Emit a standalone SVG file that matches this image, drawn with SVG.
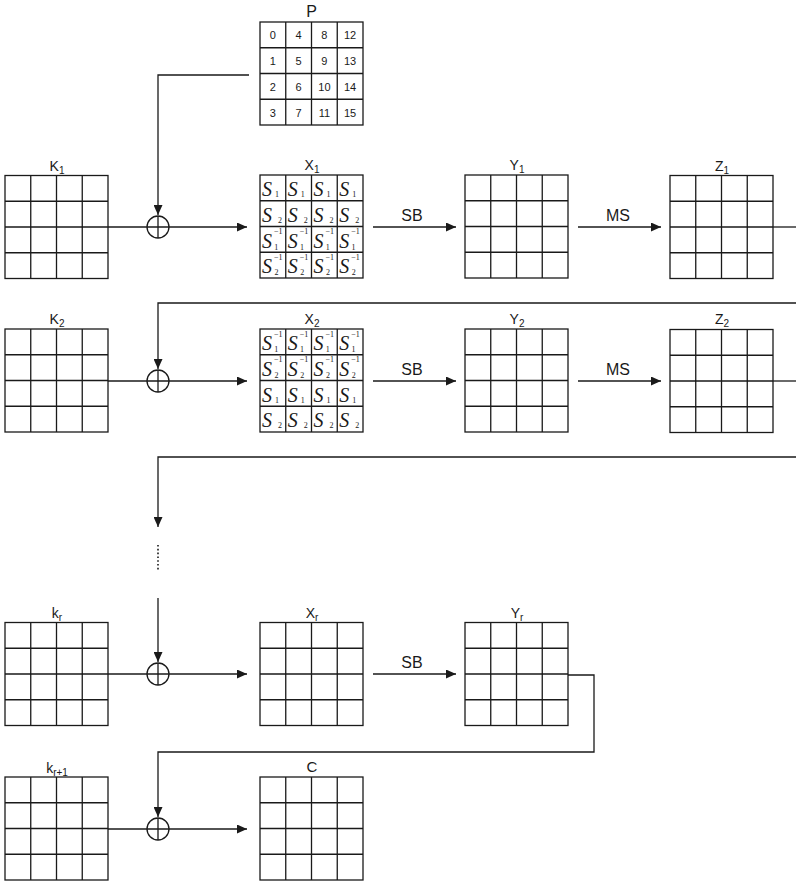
<svg xmlns="http://www.w3.org/2000/svg" xmlns:xlink="http://www.w3.org/1999/xlink" width="796" height="885" viewBox="0 0 796 885">
<style>
.gl{fill:none;stroke:#1a1a1a;stroke-width:1.3}
.cn{fill:none;stroke:#1a1a1a;stroke-width:1.3}
.lb{font-family:"Liberation Sans",Arial,sans-serif;font-size:14px;fill:#1a1a1a;text-anchor:middle}
.op{font-family:"Liberation Sans",Arial,sans-serif;font-size:16px;fill:#1a1a1a;text-anchor:middle}
.num{font-family:"Liberation Sans",Arial,sans-serif;font-size:11px;fill:#1a1a1a;text-anchor:middle}
.S{font-family:"Liberation Serif","Times New Roman",serif;font-style:italic;font-size:20px;fill:#1a1a1a}
.sm{font-family:"Liberation Serif","Times New Roman",serif;font-style:normal;font-size:8px;fill:#1a1a1a}
.xc{fill:#fff;stroke:#1a1a1a;stroke-width:1.3}
</style>
<defs>
<symbol id="grid" overflow="visible">
<rect class="gl" x="0" y="0" width="103" height="103"/>
<path class="gl" d="M25.75 0V103M51.5 0V103M77.25 0V103M0 25.75H103M0 51.5H103M0 77.25H103"/>
</symbol>
<marker id="ah" markerUnits="userSpaceOnUse" markerWidth="11" markerHeight="9" refX="10" refY="4.5" orient="auto">
<path d="M0 0L10 4.5L0 9z" fill="#1a1a1a"/>
</marker>
</defs>

<g id="connectors">
<path class="cn" d="M249 75H158V215" marker-end="url(#ah)"/>
<path class="cn" d="M108 227H247" marker-end="url(#ah)"/>
<path class="cn" d="M373 227H456" marker-end="url(#ah)"/>
<path class="cn" d="M578 227H661" marker-end="url(#ah)"/>
<path class="cn" d="M773 227H796"/>
<path class="cn" d="M796 303H158V369" marker-end="url(#ah)"/>
<path class="cn" d="M108 381H247" marker-end="url(#ah)"/>
<path class="cn" d="M373 381H456" marker-end="url(#ah)"/>
<path class="cn" d="M578 381H661" marker-end="url(#ah)"/>
<path class="cn" d="M773 381H796"/>
<path class="cn" d="M796 457H158V527" marker-end="url(#ah)"/>
<path class="cn" d="M158 545V571" stroke-dasharray="1.6 2.2" style="stroke-width:1.6"/>
<path class="cn" d="M158 598V662" marker-end="url(#ah)"/>
<path class="cn" d="M108 674H247" marker-end="url(#ah)"/>
<path class="cn" d="M373 674H456" marker-end="url(#ah)"/>
<path class="cn" d="M568 675H594V752H158V817" marker-end="url(#ah)"/>
<path class="cn" d="M108 829H247" marker-end="url(#ah)"/>
</g>

<g id="xor1"><circle class="xc" cx="158" cy="227" r="11"/><path class="cn" d="M147 227H169M158 216V238"/></g>
<g id="xor2"><circle class="xc" cx="158" cy="381" r="11"/><path class="cn" d="M147 381H169M158 370V392"/></g>
<g id="xorr"><circle class="xc" cx="158" cy="674" r="11"/><path class="cn" d="M147 674H169M158 663V685"/></g>
<g id="xorr1"><circle class="xc" cx="158" cy="829" r="11"/><path class="cn" d="M147 829H169M158 818V840"/></g>

<g id="P">
<text class="lb" x="311.5" y="17" style="font-size:16px">P</text>
<use href="#grid" x="260" y="22"/>
<text class="num" x="272.9" y="39">0</text><text class="num" x="298.6" y="39">4</text><text class="num" x="324.4" y="39">8</text><text class="num" x="350.1" y="39">12</text>
<text class="num" x="272.9" y="65">1</text><text class="num" x="298.6" y="65">5</text><text class="num" x="324.4" y="65">9</text><text class="num" x="350.1" y="65">13</text>
<text class="num" x="272.9" y="91">2</text><text class="num" x="298.6" y="91">6</text><text class="num" x="324.4" y="91">10</text><text class="num" x="350.1" y="91">14</text>
<text class="num" x="272.9" y="117">3</text><text class="num" x="298.6" y="117">7</text><text class="num" x="324.4" y="117">11</text><text class="num" x="350.1" y="117">15</text>
</g>

<g id="K1"><text class="lb" x="57" y="171">K<tspan dy="3" font-size="10">1</tspan></text><use href="#grid" x="5" y="175.5"/></g>
<g id="X1"><text class="lb" x="312" y="170">X<tspan dy="3" font-size="10">1</tspan></text><use href="#grid" x="260" y="175"/>
<text class="S" x="262" y="196">S<tspan class="sm" dx="3" dy="1">1</tspan></text>
<text class="S" x="287.75" y="196">S<tspan class="sm" dx="3" dy="1">1</tspan></text>
<text class="S" x="313.5" y="196">S<tspan class="sm" dx="3" dy="1">1</tspan></text>
<text class="S" x="339.25" y="196">S<tspan class="sm" dx="3" dy="1">1</tspan></text>
<text class="S" x="262" y="221.75">S<tspan class="sm" dx="6" dy="0.75">2</tspan></text>
<text class="S" x="287.75" y="221.75">S<tspan class="sm" dx="6" dy="0.75">2</tspan></text>
<text class="S" x="313.5" y="221.75">S<tspan class="sm" dx="6" dy="0.75">2</tspan></text>
<text class="S" x="339.25" y="221.75">S<tspan class="sm" dx="6" dy="0.75">2</tspan></text>
<text class="S" x="262" y="247.5">S<tspan class="sm" dx="2" dy="-13.5">−1</tspan><tspan class="sm" dx="-8" dy="15.5">1</tspan></text>
<text class="S" x="287.75" y="247.5">S<tspan class="sm" dx="2" dy="-13.5">−1</tspan><tspan class="sm" dx="-8" dy="15.5">1</tspan></text>
<text class="S" x="313.5" y="247.5">S<tspan class="sm" dx="2" dy="-13.5">−1</tspan><tspan class="sm" dx="-8" dy="15.5">1</tspan></text>
<text class="S" x="339.25" y="247.5">S<tspan class="sm" dx="2" dy="-13.5">−1</tspan><tspan class="sm" dx="-8" dy="15.5">1</tspan></text>
<text class="S" x="262" y="273.25">S<tspan class="sm" dx="2" dy="-13.5">−1</tspan><tspan class="sm" dx="-8" dy="15.5">2</tspan></text>
<text class="S" x="287.75" y="273.25">S<tspan class="sm" dx="2" dy="-13.5">−1</tspan><tspan class="sm" dx="-8" dy="15.5">2</tspan></text>
<text class="S" x="313.5" y="273.25">S<tspan class="sm" dx="2" dy="-13.5">−1</tspan><tspan class="sm" dx="-8" dy="15.5">2</tspan></text>
<text class="S" x="339.25" y="273.25">S<tspan class="sm" dx="2" dy="-13.5">−1</tspan><tspan class="sm" dx="-8" dy="15.5">2</tspan></text>
</g>
<g id="Y1"><text class="lb" x="517" y="170">Y<tspan dy="3" font-size="10">1</tspan></text><use href="#grid" x="465" y="175"/></g>
<g id="Z1"><text class="lb" x="722" y="171">Z<tspan dy="3" font-size="10">1</tspan></text><use href="#grid" x="670" y="175.5"/></g>
<text class="op" x="412" y="221">SB</text>
<text class="op" x="618" y="221">MS</text>

<g id="K2"><text class="lb" x="57" y="324">K<tspan dy="3" font-size="10">2</tspan></text><use href="#grid" x="5" y="329"/></g>
<g id="X2"><text class="lb" x="312" y="324">X<tspan dy="3" font-size="10">2</tspan></text><use href="#grid" x="260" y="329"/>
<text class="S" x="262" y="350">S<tspan class="sm" dx="2" dy="-13.5">−1</tspan><tspan class="sm" dx="-8" dy="15.5">1</tspan></text>
<text class="S" x="287.75" y="350">S<tspan class="sm" dx="2" dy="-13.5">−1</tspan><tspan class="sm" dx="-8" dy="15.5">1</tspan></text>
<text class="S" x="313.5" y="350">S<tspan class="sm" dx="2" dy="-13.5">−1</tspan><tspan class="sm" dx="-8" dy="15.5">1</tspan></text>
<text class="S" x="339.25" y="350">S<tspan class="sm" dx="2" dy="-13.5">−1</tspan><tspan class="sm" dx="-8" dy="15.5">1</tspan></text>
<text class="S" x="262" y="375.75">S<tspan class="sm" dx="2" dy="-13.5">−1</tspan><tspan class="sm" dx="-8" dy="15.5">2</tspan></text>
<text class="S" x="287.75" y="375.75">S<tspan class="sm" dx="2" dy="-13.5">−1</tspan><tspan class="sm" dx="-8" dy="15.5">2</tspan></text>
<text class="S" x="313.5" y="375.75">S<tspan class="sm" dx="2" dy="-13.5">−1</tspan><tspan class="sm" dx="-8" dy="15.5">2</tspan></text>
<text class="S" x="339.25" y="375.75">S<tspan class="sm" dx="2" dy="-13.5">−1</tspan><tspan class="sm" dx="-8" dy="15.5">2</tspan></text>
<text class="S" x="262" y="401.5">S<tspan class="sm" dx="3" dy="1">1</tspan></text>
<text class="S" x="287.75" y="401.5">S<tspan class="sm" dx="3" dy="1">1</tspan></text>
<text class="S" x="313.5" y="401.5">S<tspan class="sm" dx="3" dy="1">1</tspan></text>
<text class="S" x="339.25" y="401.5">S<tspan class="sm" dx="3" dy="1">1</tspan></text>
<text class="S" x="262" y="427.25">S<tspan class="sm" dx="6" dy="0.75">2</tspan></text>
<text class="S" x="287.75" y="427.25">S<tspan class="sm" dx="6" dy="0.75">2</tspan></text>
<text class="S" x="313.5" y="427.25">S<tspan class="sm" dx="6" dy="0.75">2</tspan></text>
<text class="S" x="339.25" y="427.25">S<tspan class="sm" dx="6" dy="0.75">2</tspan></text>
</g>
<g id="Y2"><text class="lb" x="517" y="324">Y<tspan dy="3" font-size="10">2</tspan></text><use href="#grid" x="465" y="329"/></g>
<g id="Z2"><text class="lb" x="722" y="324">Z<tspan dy="3" font-size="10">2</tspan></text><use href="#grid" x="670" y="329.5"/></g>
<text class="op" x="412" y="375">SB</text>
<text class="op" x="618" y="375">MS</text>

<g id="Kr"><text class="lb" x="57" y="618">k<tspan dy="3" font-size="10">r</tspan></text><use href="#grid" x="5" y="622.5"/></g>
<g id="Xr"><text class="lb" x="312" y="618">X<tspan dy="3" font-size="10">r</tspan></text><use href="#grid" x="260" y="622.5"/></g>
<g id="Yr"><text class="lb" x="517" y="618">Y<tspan dy="3" font-size="10">r</tspan></text><use href="#grid" x="465" y="622.5"/></g>
<text class="op" x="412" y="668">SB</text>

<g id="Kr1"><text class="lb" x="57" y="773">k<tspan dy="3" font-size="10">r+1</tspan></text><use href="#grid" x="5" y="777"/></g>
<g id="C"><text class="lb" x="312" y="772" style="font-size:15px">C</text><use href="#grid" x="260" y="777"/></g>
</svg>
